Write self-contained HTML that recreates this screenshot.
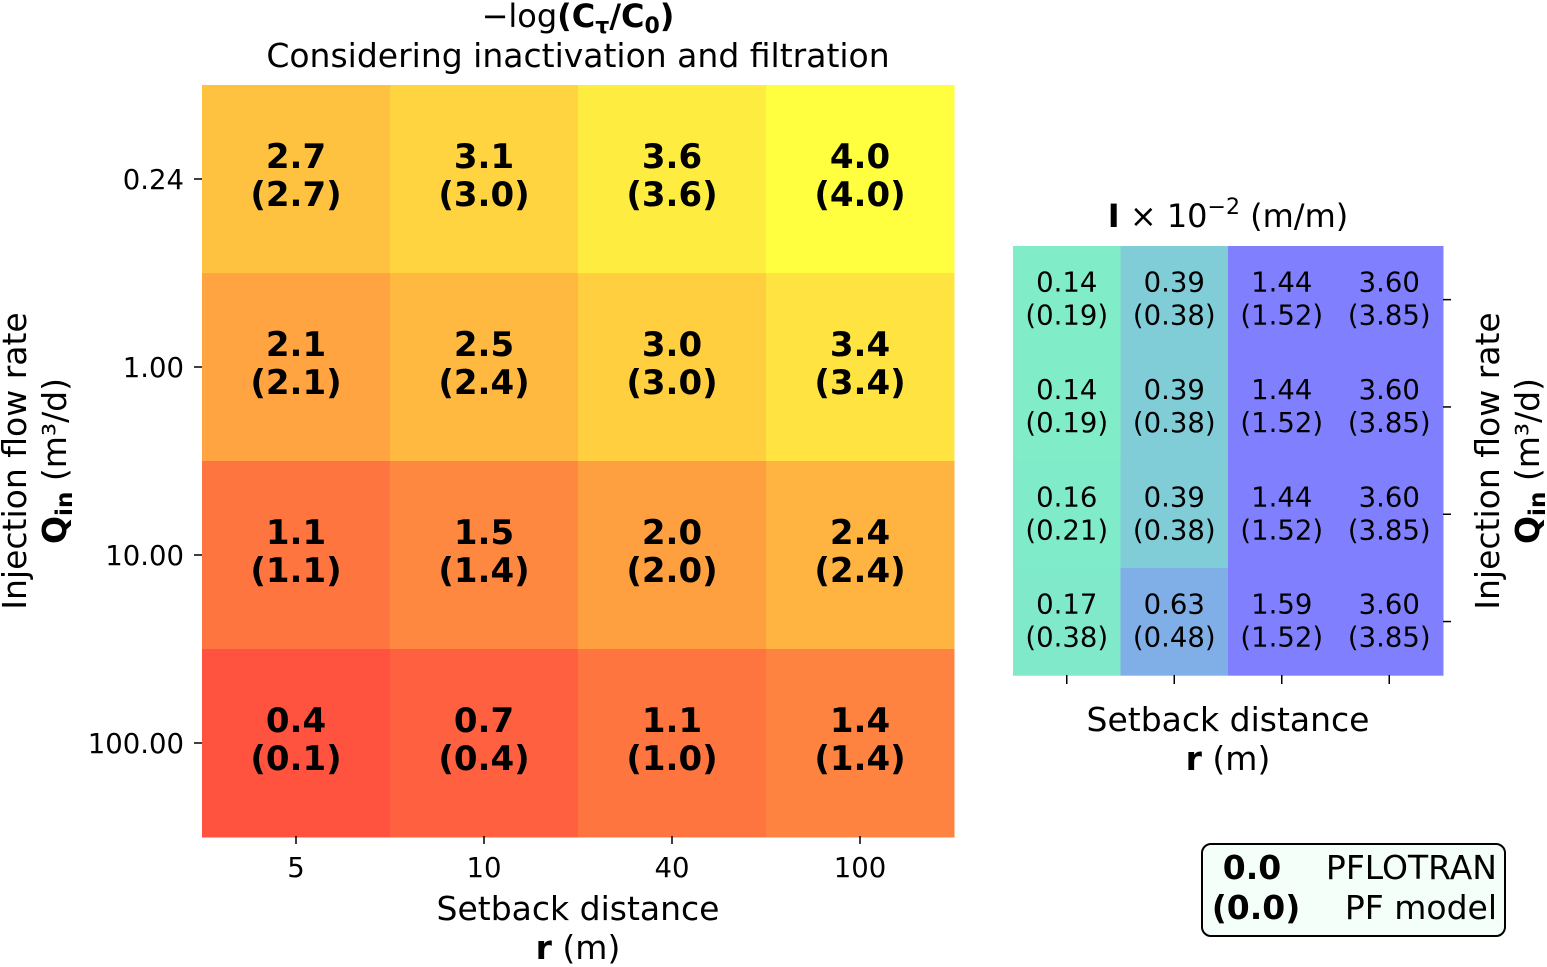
<!DOCTYPE html>
<html><head><meta charset="utf-8"><style>
body{margin:0;background:#fff}
svg{display:block;font-family:"DejaVu Sans","Liberation Sans",sans-serif}
</style></head><body>
<svg id="c" width="1547" height="967" viewBox="0 0 1547 967">
<g id="left"></g>
<g id="right"></g>
<text x="578" y="27" font-size="32" text-anchor="middle">−log<tspan font-weight="bold">(C<tspan font-size="22" dy="6">τ</tspan><tspan dy="-6">/C</tspan><tspan font-size="22" dy="6">0</tspan><tspan dy="-6">)</tspan></tspan></text>
<text x="578" y="67" font-size="33" text-anchor="middle">Considering inactivation and filtration</text>
<text x="578" y="920" font-size="33" text-anchor="middle">Setback distance</text>
<text x="578" y="959" font-size="33" text-anchor="middle"><tspan font-weight="bold">r</tspan> (m)</text>
<text transform="translate(26,461) rotate(-90)" font-size="33" text-anchor="middle">Injection flow rate</text>
<text transform="translate(66,461) rotate(-90)" font-size="33" text-anchor="middle"><tspan font-weight="bold">Q<tspan font-size="23" dy="6">in</tspan></tspan><tspan dy="-6"> (m³/d)</tspan></text>
<text x="1228" y="227" font-size="32" text-anchor="middle"><tspan font-weight="bold">I</tspan> × 10<tspan font-size="22" dy="-13">−2</tspan><tspan dy="13"> (m/m)</tspan></text>
<text x="1228" y="731" font-size="33" text-anchor="middle">Setback distance</text>
<text x="1228" y="770" font-size="33" text-anchor="middle"><tspan font-weight="bold">r</tspan> (m)</text>
<text transform="translate(1499,461) rotate(-90)" font-size="33" text-anchor="middle">Injection flow rate</text>
<text transform="translate(1539,461) rotate(-90)" font-size="33" text-anchor="middle"><tspan font-weight="bold">Q<tspan font-size="23" dy="6">in</tspan></tspan><tspan dy="-6"> (m³/d)</tspan></text>
<g>
<rect x="1202" y="844" width="303" height="92" rx="9" fill="#f5fffa" stroke="#000" stroke-width="2"/>
<text x="1252" y="879" font-size="33" font-weight="bold" text-anchor="middle">0.0</text>
<text x="1497" y="879" font-size="33" text-anchor="end">PFLOTRAN</text>
<text x="1256" y="919" font-size="33" font-weight="bold" text-anchor="middle">(0.0)</text>
<text x="1497" y="919" font-size="33" text-anchor="end">PF model</text>
</g>
</svg>
<script>
const rCats=["5","10","40","100"];
const qCats=["0.24","1.00","10.00","100.00"];
const logPF=[[2.7,3.1,3.6,4.0],[2.1,2.5,3.0,3.4],[1.1,1.5,2.0,2.4],[0.4,0.7,1.1,1.4]];
const logModel=[[2.7,3.0,3.6,4.0],[2.1,2.4,3.0,3.4],[1.1,1.4,2.0,2.4],[0.1,0.4,1.0,1.4]];
const gradPF=[[0.14,0.39,1.44,3.60],[0.14,0.39,1.44,3.60],[0.16,0.39,1.44,3.60],[0.17,0.63,1.59,3.60]];
const gradModel=[[0.19,0.38,1.52,3.85],[0.19,0.38,1.52,3.85],[0.21,0.38,1.52,3.85],[0.38,0.48,1.52,3.85]];
const NS="http://www.w3.org/2000/svg";
function mk(p,t,a){const e=document.createElementNS(NS,t);for(const k in a)e.setAttribute(k,a[k]);p.appendChild(e);return e;}
function autumn(v){const t=Math.max(0,Math.min(1,v/4));const g=Math.round(t*255*0.75+64);return `rgb(255,${g},64)`;}
function winterR(v){const t=1-Math.max(0,Math.min(1,v/1));return `rgb(128,${Math.round(t*255*0.5+127.5)},${Math.round((1-t/2)*255*0.5+127.5)})`;}
const L=document.getElementById('left');
const lx0=202,ly0=85,lw=188,lh=188;
const lxs=i=>lx0+i*lw, lys=j=>ly0+j*lh;
for(let j=0;j<4;j++)for(let i=0;i<4;i++){
 const r=mk(L,'rect',{x:lxs(i),y:lys(j),width:lw+0.5,height:lh+0.5,fill:autumn(logPF[j][i])});
 
 
 const t1=mk(L,'text',{x:lxs(i)+lw/2,y:lys(j)+lh/2-11,'font-size':34,'font-weight':'bold','text-anchor':'middle'});t1.textContent=logPF[j][i].toFixed(1);
 
 
 const t2=mk(L,'text',{x:lxs(i)+lw/2,y:lys(j)+lh/2+27,'font-size':34,'font-weight':'bold','text-anchor':'middle'});t2.textContent='('+logModel[j][i].toFixed(1)+')';
 
 
}
for(let i=0;i<4;i++){
 const cx=lxs(i)+lw/2;
 mk(L,'line',{x1:cx,x2:cx,y1:836,y2:844,stroke:'#000','stroke-width':1.5});
 const t=mk(L,'text',{x:cx,y:877,'font-size':27.5,'text-anchor':'middle'});t.textContent=rCats[i];
 
 
}
for(let j=0;j<4;j++){
 const cy=lys(j)+lh/2;
 mk(L,'line',{x1:194,x2:202,y1:cy,y2:cy,stroke:'#000','stroke-width':1.5});
 const t=mk(L,'text',{x:184,y:cy+10,'font-size':27.5,'text-anchor':'end'});t.textContent=qCats[j];
 
 
}
const R=document.getElementById('right');
const rx0=1013,ry0=246,rw=107.5,rh=107.3;
const rxs=i=>rx0+i*rw, rys=j=>ry0+j*rh;
for(let j=0;j<4;j++)for(let i=0;i<4;i++){
 const r=mk(R,'rect',{x:rxs(i),y:rys(j),width:rw+0.5,height:rh+0.5,fill:winterR(gradPF[j][i])});
 
 
 const t1=mk(R,'text',{x:rxs(i)+rw/2,y:rys(j)+rh/2-8,'font-size':27.5,'text-anchor':'middle'});t1.textContent=gradPF[j][i].toFixed(2);
 
 
 const t2=mk(R,'text',{x:rxs(i)+rw/2,y:rys(j)+rh/2+25,'font-size':27.5,'text-anchor':'middle'});t2.textContent='('+gradModel[j][i].toFixed(2)+')';
 
 
}
for(let i=0;i<4;i++){const cx=rxs(i)+rw/2;mk(R,'line',{x1:cx,x2:cx,y1:675,y2:684,stroke:'#000','stroke-width':1.5});}
for(let j=0;j<4;j++){const cy=rys(j)+rh/2;mk(R,'line',{x1:1443,x2:1451,y1:cy,y2:cy,stroke:'#000','stroke-width':1.5});}
</script>
</body></html>
